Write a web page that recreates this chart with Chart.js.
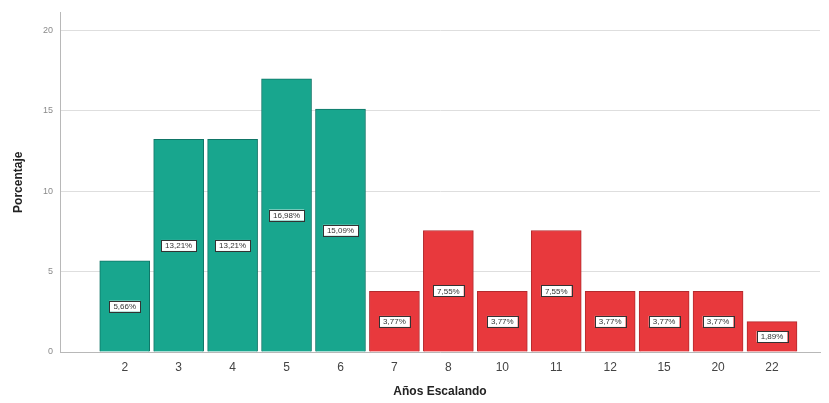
<!DOCTYPE html>
<html>
<head>
<meta charset="utf-8">
<script src="https://cdn.jsdelivr.net/npm/chart.js@4/dist/chart.umd.min.js"></script>
<style>
  html, body { margin: 0; padding: 0; background: #ffffff; }
  #wrap { width: 829px; height: 403px; position: relative; }
</style>
</head>
<body>
<div id="wrap"><canvas id="c" width="829" height="403"></canvas></div>
<script>
// Años escalando: porcentaje de escaladores por categoría
const categories = ['2', '3', '4', '5', '6', '7', '8', '10', '11', '12', '15', '20', '22'];
const percentages = [5.66, 13.21, 13.21, 16.98, 15.09, 3.77, 7.55, 3.77, 7.55, 3.77, 3.77, 3.77, 1.89];
const groups = ['A', 'A', 'A', 'A', 'A', 'B', 'B', 'B', 'B', 'B', 'B', 'B', 'B'];
const yTicks = [0, 5, 10, 15, 20];

const fill = { A: '#18a68e', B: '#e8393d' };
const edge = { A: '#0f7566', B: '#b32a2e' };

const points = percentages.map((v, i) => ({ x: i, y: v }));

const valueLabels = {
  id: 'valueLabels',
  afterDatasetsDraw(chart) {
    const ctx = chart.ctx;
    const meta = chart.getDatasetMeta(0);
    ctx.save();
    ctx.font = '8px "Liberation Sans", Arial, sans-serif';
    ctx.textAlign = 'center';
    ctx.textBaseline = 'middle';
    meta.data.forEach((bar, i) => {
      const txt = percentages[i].toFixed(2).replace('.', ',') + '%';
      const cy = (bar.y + bar.base) / 2;
      const w = ctx.measureText(txt).width + 8;
      const h = 11;
      ctx.fillStyle = '#ffffff';
      ctx.fillRect(bar.x - w / 2, cy - h / 2, w, h);
      ctx.strokeStyle = '#333333';
      ctx.lineWidth = 1;
      ctx.strokeRect(Math.round(bar.x - w / 2) + 0.5, Math.round(cy - h / 2) + 0.5, Math.round(w), h);
      ctx.fillStyle = '#333333';
      ctx.fillText(txt, bar.x, cy + 0.5);
    });
    ctx.restore();
  }
};

new Chart(document.getElementById('c'), {
  type: 'bar',
  data: {
    datasets: [{
      data: points,
      backgroundColor: groups.map(g => fill[g]),
      borderColor: groups.map(g => edge[g]),
      borderWidth: 1,
      barThickness: 50
    }]
  },
  options: {
    responsive: false,
    animation: false,
    events: [],
    layout: { padding: { top: 7, right: 9, left: 7, bottom: 0 } },
    plugins: {
      legend: { display: false },
      tooltip: { enabled: false }
    },
    scales: {
      x: {
        type: 'linear',
        offset: false,
        min: -1.2,
        max: 12.89,
        afterBuildTicks(scale) {
          scale.ticks = categories.map((_, i) => ({ value: i }));
        },
        afterFit(scale) { scale.height = 51; },
        grid: { display: false, drawTicks: false, offset: false },
        border: { display: true, color: '#b8b8b8', width: 1 },
        ticks: {
          autoSkip: false,
          maxRotation: 0,
          padding: 8,
          color: '#444444',
          font: { family: '"Liberation Sans", Arial, sans-serif', size: 12 },
          callback: (v) => categories[v]
        },
        title: {
          display: true,
          text: 'Años Escalando',
          color: '#222222',
          padding: { top: 10 },
          font: { family: '"Liberation Sans", Arial, sans-serif', size: 12, weight: 'bold' }
        }
      },
      y: {
        min: 0,
        max: 21.1,
        afterBuildTicks(scale) {
          scale.ticks = yTicks.map(v => ({ value: v }));
        },
        afterFit(scale) { scale.width = 53; },
        grid: { color: '#dedede', lineWidth: 1, drawTicks: false },
        border: { display: true, color: '#b8b8b8', width: 1 },
        ticks: {
          padding: 7,
          color: '#8a8a8a',
          font: { family: '"Liberation Sans", Arial, sans-serif', size: 9 }
        },
        title: {
          display: true,
          text: 'Porcentaje',
          color: '#222222',
          padding: { bottom: 4 },
          font: { family: '"Liberation Sans", Arial, sans-serif', size: 12, weight: 'bold' }
        }
      }
    }
  },
  plugins: [valueLabels]
});
</script>
</body>
</html>
